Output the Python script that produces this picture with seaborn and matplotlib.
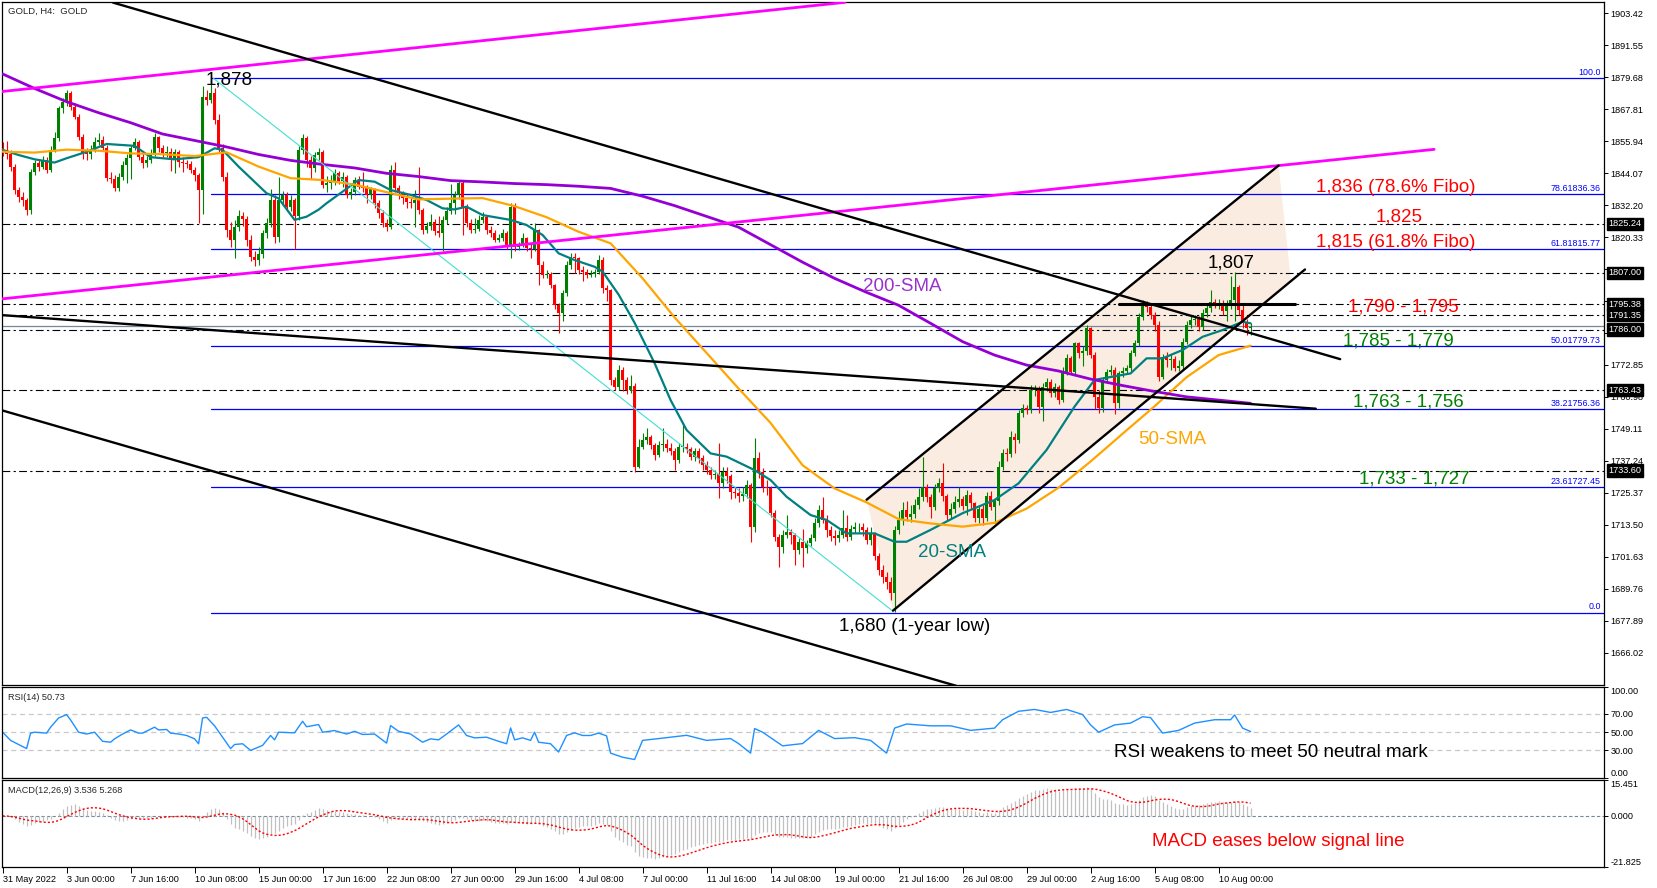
import numpy as np
import pandas as pd
import matplotlib
matplotlib.use("Agg")
import matplotlib.pyplot as plt
import seaborn as sns

# H4 bars, index 0 = 31 May 2022 00:00
first_open = 1853.5
closes = [
    1852.0, 1851.0, 1846.5, 1837.8, 1835.3, 1834.1, 1830.4, 1844.6, 1847.7, 1846.5,
    1849.0, 1845.3, 1852.7, 1857.0, 1868.1, 1870.6, 1873.7, 1868.8, 1865.0, 1857.6,
    1851.4, 1851.0, 1852.7, 1855.8, 1856.4, 1853.3, 1842.2, 1842.0, 1838.4, 1842.8,
    1847.0, 1849.6, 1853.3, 1855.8, 1850.2, 1847.7, 1849.0, 1851.4, 1857.6, 1853.3,
    1851.4, 1852.0, 1849.0, 1852.0, 1848.3, 1847.7, 1847.5, 1845.3, 1843.4, 1837.8,
    1872.5, 1871.2, 1874.0, 1863.8, 1853.3, 1842.8, 1823.0, 1819.3, 1824.0, 1828.0,
    1827.0, 1819.3, 1813.0, 1812.0, 1814.0, 1821.7, 1825.4, 1834.0, 1820.5, 1834.0,
    1836.0, 1831.6, 1834.0, 1828.0, 1852.7, 1857.0, 1849.0, 1846.0, 1850.8, 1852.0,
    1839.7, 1840.3, 1841.0, 1844.0, 1841.0, 1842.8, 1836.0, 1837.0, 1841.5, 1839.0,
    1838.5, 1836.0, 1838.0, 1832.9, 1829.1, 1825.4, 1824.2, 1845.2, 1838.4, 1836.6,
    1834.8, 1833.5, 1833.0, 1834.0, 1830.4, 1823.0, 1824.5, 1826.0, 1822.5, 1821.7,
    1826.7, 1830.0, 1833.0, 1836.0, 1840.3, 1831.6, 1825.4, 1823.0, 1823.5, 1826.7,
    1827.9, 1823.0, 1822.0, 1819.3, 1820.0, 1821.7, 1816.8, 1831.6, 1816.8, 1817.5,
    1819.8, 1816.1, 1816.0, 1823.0, 1810.0, 1806.3, 1806.5, 1802.5, 1795.1, 1792.0,
    1799.4, 1810.0, 1813.0, 1812.4, 1808.1, 1807.5, 1806.3, 1806.8, 1807.3, 1811.8,
    1801.3, 1800.6, 1767.3, 1764.8, 1771.0, 1767.3, 1763.6, 1765.0, 1735.1, 1742.5,
    1745.0, 1746.0, 1743.0, 1739.4, 1743.0, 1743.5, 1742.0, 1741.0, 1737.6, 1742.5,
    1742.5, 1741.5, 1738.8, 1741.0, 1738.2, 1735.7, 1733.9, 1732.0, 1732.5, 1728.9,
    1733.2, 1731.5, 1725.8, 1725.2, 1724.0, 1725.0, 1728.3, 1712.8, 1738.2, 1733.2,
    1727.7, 1727.0, 1718.0, 1709.1, 1705.4, 1709.7, 1710.9, 1709.7, 1704.1, 1707.2,
    1704.8, 1706.6, 1708.5, 1714.0, 1719.0, 1715.3, 1711.6, 1709.5, 1708.5, 1709.7,
    1712.2, 1709.1, 1712.0, 1712.5, 1712.8, 1711.5, 1707.9, 1710.0, 1702.0, 1696.7,
    1694.2, 1692.4, 1688.1, 1711.6, 1715.3, 1719.0, 1716.5, 1717.5, 1720.9, 1723.9,
    1727.7, 1723.9, 1720.2, 1727.0, 1729.0, 1724.0, 1717.1, 1719.5, 1722.0, 1723.0,
    1720.5, 1724.6, 1721.5, 1716.0, 1719.5, 1716.0, 1724.0, 1720.2, 1722.5, 1735.1,
    1740.0, 1739.6, 1746.2, 1745.0, 1754.9, 1756.7, 1756.2, 1763.5, 1764.0, 1757.4,
    1764.8, 1766.6, 1762.3, 1764.5, 1759.8, 1770.3, 1775.3, 1770.3, 1780.9, 1777.2,
    1778.0, 1786.4, 1776.5, 1761.1, 1756.7, 1767.3, 1770.3, 1771.0, 1758.6, 1769.7,
    1770.5, 1771.6, 1777.2, 1780.9, 1790.8, 1795.1, 1794.4, 1791.4, 1787.7, 1768.5,
    1775.9, 1774.5, 1775.0, 1771.6, 1772.5, 1781.5, 1787.7, 1789.5, 1790.0, 1787.0,
    1792.0, 1793.9, 1796.3, 1795.5, 1796.0, 1793.0, 1795.0, 1797.0, 1801.9, 1793.2,
    1788.3, 1786.4, 1787.0,
]
highs = [
    1855.5, 1856.0, 1852.5, 1847.5, 1839.0, 1837.0, 1835.0, 1845.5, 1849.0, 1849.5,
    1850.5, 1850.0, 1854.0, 1859.5, 1869.0, 1872.0, 1875.0, 1874.5, 1870.0, 1866.0,
    1858.5, 1853.5, 1854.5, 1857.5, 1859.0, 1858.0, 1854.5, 1844.5, 1843.5, 1844.0,
    1848.5, 1851.0, 1854.5, 1857.0, 1856.5, 1851.5, 1850.5, 1853.0, 1859.0, 1858.0,
    1854.5, 1854.0, 1853.5, 1853.0, 1852.5, 1850.0, 1849.0, 1848.5, 1846.5, 1844.0,
    1876.5, 1875.0, 1879.0, 1875.5, 1866.0, 1855.0, 1844.5, 1826.0, 1826.5, 1830.5,
    1829.5, 1828.0, 1821.0, 1815.0, 1816.5, 1823.0, 1827.5, 1838.0, 1836.0, 1842.8,
    1837.5, 1837.0, 1836.0, 1835.0, 1854.0, 1858.5, 1858.0, 1850.5, 1852.0, 1853.5,
    1852.5, 1843.0, 1843.5, 1845.5, 1845.0, 1844.5, 1843.5, 1838.5, 1842.5, 1843.0,
    1844.5, 1839.5, 1839.0, 1838.5, 1834.0, 1830.5, 1827.0, 1847.0, 1848.3, 1839.5,
    1837.5, 1836.5, 1835.0, 1837.8, 1846.5, 1831.0, 1826.0, 1829.0, 1827.0, 1828.0,
    1828.0, 1831.5, 1840.0, 1837.5, 1841.5, 1841.0, 1832.5, 1827.0, 1827.5, 1828.5,
    1829.5, 1828.5, 1824.5, 1823.0, 1821.5, 1823.5, 1822.5, 1833.0, 1833.0, 1818.5,
    1822.0, 1820.5, 1818.0, 1825.5, 1823.5, 1811.5, 1808.0, 1807.5, 1803.0, 1796.0,
    1800.5, 1811.5, 1814.5, 1814.5, 1813.0, 1809.5, 1808.5, 1808.0, 1808.5, 1813.5,
    1813.0, 1802.5, 1801.0, 1768.5, 1773.0, 1772.0, 1768.5, 1769.0, 1766.0, 1745.5,
    1747.5, 1749.5, 1747.0, 1744.0, 1744.5, 1749.5, 1745.5, 1744.0, 1742.0, 1744.0,
    1751.2, 1744.0, 1742.5, 1742.0, 1742.0, 1739.5, 1737.0, 1735.0, 1734.0, 1743.8,
    1735.0, 1735.0, 1732.5, 1727.5, 1727.0, 1727.5, 1730.0, 1729.0, 1745.6, 1740.5,
    1734.5, 1730.0, 1728.0, 1719.0, 1710.0, 1711.5, 1717.0, 1712.0, 1710.5, 1708.5,
    1712.0, 1708.0, 1710.0, 1716.0, 1721.0, 1723.9, 1717.0, 1713.0, 1711.5, 1711.5,
    1719.0, 1717.0, 1713.5, 1714.5, 1714.0, 1714.0, 1712.5, 1712.5, 1711.0, 1703.0,
    1698.5, 1696.0, 1694.0, 1713.0, 1718.5, 1722.0, 1722.5, 1721.0, 1723.0, 1727.0,
    1738.8, 1728.5, 1725.0, 1728.5, 1731.0, 1736.5, 1725.0, 1721.5, 1724.0, 1727.5,
    1724.0, 1726.5, 1725.5, 1722.0, 1721.0, 1721.0, 1725.5, 1726.0, 1723.5, 1737.0,
    1741.5, 1742.0, 1748.5, 1747.5, 1756.0, 1758.5, 1758.0, 1765.5, 1765.5, 1765.0,
    1766.0, 1768.0, 1767.5, 1766.0, 1765.5, 1772.0, 1777.0, 1776.0, 1781.5, 1781.5,
    1780.0, 1787.5, 1787.0, 1777.5, 1763.5, 1768.5, 1771.5, 1773.0, 1772.0, 1770.5,
    1772.0, 1773.0, 1778.5, 1782.0, 1792.0, 1797.0, 1796.5, 1795.5, 1792.5, 1789.0,
    1777.0, 1777.5, 1777.0, 1776.0, 1774.5, 1783.0, 1789.0, 1791.5, 1791.5, 1791.0,
    1793.5, 1795.5, 1800.7, 1797.5, 1797.5, 1797.0, 1797.0, 1806.0, 1807.5, 1802.5,
    1795.0, 1790.0, 1788.5,
]
lows = [
    1850.5, 1849.5, 1845.0, 1836.5, 1833.5, 1832.0, 1828.5, 1828.8, 1843.5, 1845.0,
    1845.5, 1844.0, 1844.5, 1852.0, 1856.0, 1866.5, 1869.0, 1867.5, 1864.0, 1856.5,
    1849.5, 1849.0, 1849.5, 1852.0, 1854.5, 1852.5, 1841.0, 1840.5, 1837.5, 1837.5,
    1841.5, 1840.5, 1842.0, 1852.5, 1849.0, 1846.0, 1846.5, 1848.0, 1850.5, 1852.0,
    1850.0, 1850.0, 1845.0, 1844.0, 1846.5, 1844.5, 1846.0, 1844.0, 1841.0, 1825.4,
    1829.0, 1869.5, 1870.0, 1862.5, 1851.5, 1841.0, 1820.5, 1816.5, 1812.5, 1822.5,
    1824.5, 1817.0, 1811.5, 1809.5, 1810.0, 1812.5, 1820.0, 1824.0, 1818.0, 1818.5,
    1832.5, 1830.0, 1830.0, 1816.0, 1826.5, 1851.0, 1846.5, 1842.0, 1844.5, 1849.0,
    1838.5, 1837.0, 1838.0, 1839.5, 1840.0, 1839.0, 1835.0, 1834.5, 1836.0, 1838.0,
    1837.0, 1833.0, 1834.5, 1831.0, 1827.5, 1824.0, 1822.5, 1823.5, 1837.0, 1834.5,
    1832.5, 1831.0, 1831.0, 1824.2, 1829.0, 1821.5, 1822.0, 1823.0, 1821.0, 1820.5,
    1815.0, 1825.0, 1829.0, 1829.0, 1834.5, 1821.0, 1824.0, 1822.0, 1822.0, 1822.5,
    1825.5, 1821.5, 1820.5, 1818.5, 1818.5, 1819.0, 1816.0, 1812.5, 1815.0, 1815.5,
    1816.5, 1815.0, 1812.5, 1815.0, 1802.5, 1805.0, 1805.0, 1801.5, 1793.5, 1784.6,
    1789.0, 1798.5, 1808.5, 1807.0, 1806.5, 1804.0, 1805.0, 1805.5, 1805.5, 1806.5,
    1799.5, 1796.5, 1765.5, 1763.5, 1763.5, 1763.0, 1762.0, 1762.5, 1733.0, 1734.5,
    1741.5, 1743.5, 1741.5, 1737.5, 1738.5, 1741.0, 1740.5, 1739.5, 1734.0, 1736.5,
    1740.5, 1740.0, 1737.5, 1737.0, 1736.5, 1734.0, 1732.5, 1730.5, 1730.5, 1723.3,
    1727.0, 1729.0, 1723.0, 1723.5, 1722.0, 1722.5, 1723.5, 1707.0, 1711.0, 1731.0,
    1725.5, 1724.5, 1716.5, 1707.5, 1698.0, 1703.0, 1708.5, 1706.5, 1698.5, 1702.5,
    1698.0, 1703.0, 1705.5, 1707.5, 1712.5, 1714.0, 1709.0, 1707.5, 1706.0, 1707.0,
    1708.5, 1707.5, 1708.0, 1710.5, 1711.0, 1709.5, 1706.5, 1706.0, 1700.5, 1695.0,
    1692.0, 1689.5, 1685.5, 1681.0, 1710.0, 1713.5, 1715.0, 1714.5, 1716.0, 1719.5,
    1722.5, 1722.0, 1716.0, 1719.0, 1725.5, 1722.5, 1715.0, 1716.0, 1718.0, 1720.0,
    1719.0, 1717.0, 1719.5, 1714.5, 1714.0, 1713.5, 1715.0, 1719.0, 1714.0, 1721.0,
    1734.0, 1737.0, 1738.5, 1740.0, 1744.0, 1753.5, 1754.5, 1755.0, 1761.5, 1755.0,
    1752.0, 1763.0, 1761.0, 1761.0, 1758.5, 1759.0, 1769.0, 1769.5, 1769.5, 1775.5,
    1772.5, 1776.5, 1775.5, 1756.5, 1755.0, 1755.5, 1766.0, 1769.0, 1754.8, 1757.0,
    1768.5, 1769.5, 1770.5, 1776.0, 1780.0, 1789.5, 1792.5, 1790.0, 1785.5, 1767.0,
    1767.5, 1772.0, 1771.0, 1770.5, 1770.5, 1771.5, 1780.5, 1786.5, 1787.5, 1785.5,
    1786.0, 1790.5, 1792.5, 1794.0, 1793.5, 1791.5, 1789.0, 1793.5, 1789.0, 1791.5,
    1786.5, 1784.0, 1784.0,
]

# moving averages (bar, value)
sma20_pts = [(0, 1852.7), (4, 1850.8), (8, 1849.2), (13, 1848.0), (16, 1849.6), (21, 1852.0),
             (26, 1854.9), (33, 1854.2), (37, 1850.0), (43, 1849.2), (49, 1850.0), (53, 1853.3),
             (55, 1852.7), (59, 1846.5), (66, 1836.6), (69, 1834.7), (73, 1826.7), (76, 1827.9),
             (79, 1830.5), (81, 1832.9), (85, 1837.2), (89, 1841.5), (93, 1840.9), (97, 1837.8),
             (102, 1836.0), (106, 1834.1), (110, 1831.0), (113, 1830.6), (116, 1831.6),
             (120, 1828.5), (127, 1826.7), (131, 1824.8), (135, 1821.1), (139, 1814.3),
             (143, 1811.8), (148, 1809.3), (150, 1807.5), (154, 1799.0), (158, 1788.5),
             (163, 1773.5), (167, 1759.8), (171, 1748.7), (177, 1740.0), (181, 1738.8),
             (188, 1733.8), (192, 1730.1), (196, 1723.9), (202, 1717.1), (206, 1715.3),
             (211, 1710.3), (218, 1710.3), (223, 1707.2), (226, 1707.2), (232, 1711.6),
             (240, 1717.8), (248, 1722.7), (254, 1728.9), (261, 1741.3), (268, 1757.4),
             (273, 1767.3), (282, 1769.7), (286, 1775.3), (290, 1775.3), (295, 1778.4),
             (300, 1783.3), (305, 1785.8), (310, 1788.9), (312, 1788.3)]
sma_bars = [0, 8, 16, 24, 32, 40, 48, 56, 64, 72, 80, 88, 96, 104, 112, 120, 128, 136, 144, 152,
            160, 168, 176, 184, 192, 200, 208, 216, 224, 232, 240, 248, 256, 264, 272, 280, 288,
            296, 304, 312]
sma50 = [1852.0, 1851.7, 1852.8, 1852.4, 1851.4, 1851.1, 1850.4, 1851.8, 1846.5, 1842.2,
         1841.5, 1839.8, 1837.0, 1834.3, 1834.6, 1834.8, 1831.8, 1827.7, 1822.3, 1818.0,
         1805.0, 1790.5, 1777.3, 1764.1, 1751.3, 1735.6, 1727.0, 1721.8, 1715.6, 1714.0,
         1712.8, 1714.2, 1719.5, 1727.3, 1737.0, 1747.3, 1757.5, 1768.3, 1776.5, 1780.0]
sma200 = [1880.9, 1875.5, 1870.6, 1866.5, 1862.8, 1858.6, 1856.2, 1853.8, 1851.0, 1848.8,
          1847.3, 1846.0, 1844.0, 1842.8, 1841.3, 1840.8, 1840.2, 1839.8, 1839.2, 1838.4,
          1835.5, 1832.0, 1828.0, 1824.0, 1817.5, 1811.0, 1805.0, 1799.8, 1795.0, 1788.3,
          1781.5, 1776.5, 1772.8, 1770.6, 1767.6, 1765.2, 1763.0, 1761.0, 1759.8, 1758.6]

# RSI(14) (bar, value)
rsi_pts = [(0, 50), (2, 41), (4, 36.5), (6, 32), (7, 49), (8, 50), (11, 49), (12, 55.5), (14, 65.6),
           (16, 69.3), (17, 63.5), (19, 50), (21, 48), (23, 50), (25, 40), (27, 39), (28, 42.7),
           (30, 48), (32, 52.5), (34, 49), (35, 49), (38, 55.5), (39, 52.5), (41, 53), (42, 49),
           (44, 48), (46, 46.4), (48, 42.7), (49, 37.3), (50, 65.6), (51, 66.4), (53, 57),
           (55, 44.5), (57, 32), (58, 36.5), (60, 37.3), (62, 30), (65, 35.5), (67, 46.4),
           (68, 41.6), (69, 50), (73, 49.3), (75, 62), (76, 56), (79, 58.4), (80, 50), (83, 51.8),
           (86, 48), (88, 51), (90, 47.5), (93, 48), (96, 38), (97, 57.3), (99, 51), (102, 48),
           (105, 39), (107, 42.7), (109, 41.6), (111, 48), (114, 58), (116, 46.4), (118, 43.8),
           (121, 44.5), (124, 40), (126, 37.3), (127, 54.7), (128, 41.6), (130, 43.8), (132, 41),
           (133, 50), (134, 39), (137, 37.3), (139, 28.2), (141, 46.4), (143, 49.3), (145, 46.4),
           (147, 46.4), (149, 49), (151, 46), (152, 27), (155, 22.5), (158, 20), (160, 41),
           (166, 44), (171, 46.6), (176, 41), (182, 43), (184, 37.5), (187, 27), (188, 54),
           (190, 50), (195, 35), (200, 37.5), (204, 52), (208, 43), (213, 44), (217, 41),
           (221, 27), (223, 54.5), (226, 59), (232, 57), (237, 57), (242, 52), (248, 54.5),
           (250, 63.7), (254, 73), (258, 75), (262, 71.7), (266, 75), (270, 69.4), (272, 58),
           (274, 50), (278, 58), (282, 60), (285, 67), (287, 66), (290, 49), (294, 52), (298, 60),
           (303, 63.7), (307, 63.7), (308, 69), (310, 54.5), (312, 50.73)]

# drawn objects (bar, price)
magenta_top = [(-0.65, 1874.3), (210.6, 1907.5)]
magenta_low = [(-0.65, 1797.3), (357.9, 1852.9)]
down_top = [(27.6, 1907.4), (334.4, 1775.0)]
down_mid = [(-0.65, 1791.4), (328.3, 1756.6)]
down_low = [(-0.65, 1756.2), (238.4, 1653.7)]
up_top = [(216.0, 1722.8), (319.0, 1846.9)]
up_low = [(222.6, 1681.6), (325.6, 1808.3)]
resist_1795 = [(279.0, 1795.5), (323.0, 1795.5)]
fibo_base = [(52.7, 1879.3), (222.6, 1681.4)]
channel_fill = [(216.0, 1722.8), (319.0, 1846.9), (322.1, 1804.0), (222.6, 1681.6)]

fib_start = 52
fib_levels = [1879.5, 1836.36, 1815.77, 1779.73, 1756.36, 1727.45, 1680.9]
fib_labels = ["100.0", "78.61836.36", "61.81815.77", "50.01779.73", "38.21756.36",
              "23.61727.45", "0.0"]
dash_levels = [1825.24, 1807.00, 1795.38, 1791.35, 1786.00, 1763.43, 1733.60]
bid_price = 1787.2

price_ticks = [1903.42, 1891.55, 1879.68, 1867.81, 1855.94, 1844.07, 1832.20, 1820.33,
               1808.46, 1796.59, 1784.72, 1772.85, 1760.98, 1749.11, 1737.24, 1725.37,
               1713.50, 1701.63, 1689.76, 1677.89, 1666.02]
hidden_ticks = [1808.46, 1796.59, 1784.72]   # covered by the price boxes
date_ticks = [0, 16, 32, 48, 64, 80, 96, 112, 128, 144, 160, 176, 192, 208, 224, 240, 256,
              272, 288, 304]
date_labels = ["31 May 2022", "3 Jun 00:00", "7 Jun 16:00", "10 Jun 08:00", "15 Jun 00:00",
               "17 Jun 16:00", "22 Jun 08:00", "27 Jun 00:00", "29 Jun 16:00", "4 Jul 08:00",
               "7 Jul 00:00", "11 Jul 16:00", "14 Jul 08:00", "19 Jul 00:00", "21 Jul 16:00",
               "26 Jul 08:00", "29 Jul 00:00", "2 Aug 16:00", "5 Aug 08:00", "10 Aug 00:00"]

sns.set_style("white")
plt.rcParams['font.family'] = ['Liberation Sans', 'DejaVu Sans']

XL = (-0.15, 400.35)
TICK_FS = 6.6
NOTE_FS = 13.5

fig = plt.figure(figsize=(16.57, 8.88), dpi=100)
ax = fig.add_axes([0.0012, 0.2289, 0.9668, 0.7688])
ax_rsi = fig.add_axes([0.0012, 0.1242, 0.9668, 0.1025])
ax_macd = fig.add_axes([0.0012, 0.0240, 0.9668, 0.0976])

for a in (ax, ax_rsi, ax_macd):
    a.set_xlim(*XL)
    for sp in a.spines.values():
        sp.set_color('black')
        sp.set_linewidth(0.9)
    a.yaxis.tick_right()
    a.tick_params(axis='y', direction='out', length=3, width=0.7, pad=1.5,
                  labelsize=TICK_FS, colors='black', left=False, right=True)
    a.tick_params(axis='x', bottom=False, labelbottom=False)

# ---------------- price panel ----------------
n = len(closes)
bars = np.arange(n)
c = np.array(closes)
o = np.array([first_open] + closes[:-1])
h = np.maximum(np.array(highs), np.maximum(o, c))
l = np.minimum(np.array(lows), np.minimum(o, c))
cols = np.where(c >= o, '#008000', '#ff0000')

ax.fill([p[0] for p in channel_fill], [p[1] for p in channel_fill],
        color='#faece0', lw=0, zorder=0.5)

for lev in fib_levels:
    ax.plot([fib_start, XL[1]], [lev, lev], color='#0000ff', lw=0.9, zorder=1)
for lev, lab in zip(fib_levels, fib_labels):
    ax.text(399.6, lev + 0.4, lab, color='#0000ff', fontsize=6.4, ha='right', va='bottom')
for lev in dash_levels:
    ax.axhline(lev, color='black', lw=0.8, ls=(0, (7, 3, 2, 3)), zorder=1)
ax.axhline(bid_price, color='#778899', lw=0.9, zorder=1)

ax.vlines(bars, l, h, colors=cols, lw=0.8, zorder=3)
ax.bar(bars, np.maximum(np.abs(c - o), 0.35), bottom=np.minimum(o, c), width=0.75,
       color=cols, lw=0, zorder=3)

s20b, s20v = zip(*sma20_pts)
sns.lineplot(x=list(s20b), y=list(s20v), ax=ax, color='#008080', lw=1.6, zorder=4)
sns.lineplot(x=sma_bars, y=sma50, ax=ax, color='#ffa500', lw=1.6, zorder=4)
sns.lineplot(x=sma_bars, y=sma200, ax=ax, color='#9400d3', lw=2.0, zorder=4)

ax.plot(*zip(*fibo_base), color='#40e0d0', lw=0.8, zorder=4)
for seg in (magenta_top, magenta_low):
    ax.plot(*zip(*seg), color='#ff00ff', lw=2.0, zorder=5)
for seg in (down_top, down_mid, down_low, up_top, up_low):
    ax.plot(*zip(*seg), color='black', lw=1.7, zorder=5)
ax.plot(*zip(*resist_1795), color='black', lw=2.2, zorder=5)

ax.set_ylim(1654.1, 1907.6)
ax.set_yticks(price_ticks)
ax.set_yticklabels(["" if v in hidden_ticks else f"{v:.2f}" for v in price_ticks])
ax.set_ylabel("")

ytr = ax.get_yaxis_transform()
for lev in dash_levels:
    ax.text(1.0028, lev, f"{lev:.2f}", transform=ytr, color='white', fontsize=TICK_FS,
            ha='left', va='center', zorder=10, clip_on=False,
            bbox=dict(boxstyle='square,pad=0.18', fc='black', ec='black'))

ax.text(0.004, 0.993, "GOLD, H4:  GOLD", transform=ax.transAxes, fontsize=6.8,
        ha='left', va='top', zorder=10)

notes = [
    ("1,878", 56.6, 1878.7, 'black'),
    ("1,836 (78.6% Fibo)", 348.4, 1838.7, '#ff0000'),
    ("1,825", 349.1, 1827.9, '#ff0000'),
    ("1,815 (61.8% Fibo)", 348.4, 1818.2, '#ff0000'),
    ("1,807", 307.1, 1810.6, 'black'),
    ("1,790 - 1,795", 350.1, 1794.5, '#ff0000'),
    ("1,785 - 1,779", 349.0, 1781.8, '#008000'),
    ("200-SMA", 224.9, 1801.8, '#9932cc'),
    ("1,763 - 1,756", 351.4, 1759.2, '#008000'),
    ("50-SMA", 292.4, 1745.3, '#ffa500'),
    ("1,733 - 1,727", 352.9, 1730.6, '#008000'),
    ("20-SMA", 237.4, 1703.1, '#008080'),
    ("1,680 (1-year low)", 228.1, 1675.7, 'black'),
]
for txt, x, y, col in notes:
    ax.text(x, y, txt, color=col, fontsize=NOTE_FS, ha='center', va='center', zorder=6)

# ---------------- RSI panel ----------------
rb, rv = zip(*rsi_pts)
for lev in (70, 50, 30):
    ax_rsi.axhline(lev, color='#c8c8c8', lw=0.9, ls=(0, (4, 3)))
sns.lineplot(x=list(rb), y=list(rv), ax=ax_rsi, color='#1e90ff', lw=1.0)
ax_rsi.set_ylim(0, 100)
ax_rsi.set_yticks([100, 70, 50, 30, 0])
ax_rsi.set_yticklabels(["100.00", "70.00", "50.00", "30.00", "0.00"])
labs = ax_rsi.get_yticklabels()
labs[0].set_va('top')
labs[-1].set_va('bottom')
ax_rsi.set_ylabel("")
ax_rsi.text(0.004, 0.93, "RSI(14) 50.73", transform=ax_rsi.transAxes, fontsize=6.6,
            ha='left', va='top')
ax_rsi.text(317.1, 27.3, "RSI weakens to meet 50 neutral mark", color='black',
            fontsize=NOTE_FS, ha='center', va='center')

# ---------------- MACD panel ----------------
cs = pd.Series(closes)
macd_main = cs.ewm(span=12, adjust=False).mean() - cs.ewm(span=26, adjust=False).mean()
macd_sig = macd_main.rolling(9, min_periods=1).mean()
ax_macd.axhline(0, color='#778899', lw=0.8, ls=(0, (3, 2)))
ax_macd.vlines(bars, 0, macd_main.values, colors='#c0c0c0', lw=0.9)
ax_macd.plot(bars, macd_sig.values, color='#ff0000', lw=1.0, ls=(0, (1.5, 1.5)))
ax_macd.set_ylim(-21.825, 15.451)
ax_macd.set_yticks([15.451, 0.0, -21.825])
ax_macd.set_yticklabels(["15.451", "0.000", "-21.825"])
mlabs = ax_macd.get_yticklabels()
mlabs[0].set_va('top')
mlabs[-1].set_va('bottom')
ax_macd.text(0.004, 0.93, "MACD(12,26,9) 3.536 5.268", transform=ax_macd.transAxes,
             fontsize=6.6, ha='left', va='top')
ax_macd.text(318.9, -11.2, "MACD eases below signal line", color='#ff0000',
             fontsize=NOTE_FS, ha='center', va='center')

ax_macd.set_xticks(date_ticks)
ax_macd.set_xticklabels(date_labels, ha='left')
ax_macd.tick_params(axis='x', bottom=True, labelbottom=True, direction='out', length=4,
                    width=0.7, pad=2, labelsize=TICK_FS, colors='black')

fig.savefig("out.png", dpi=100, facecolor='white')
